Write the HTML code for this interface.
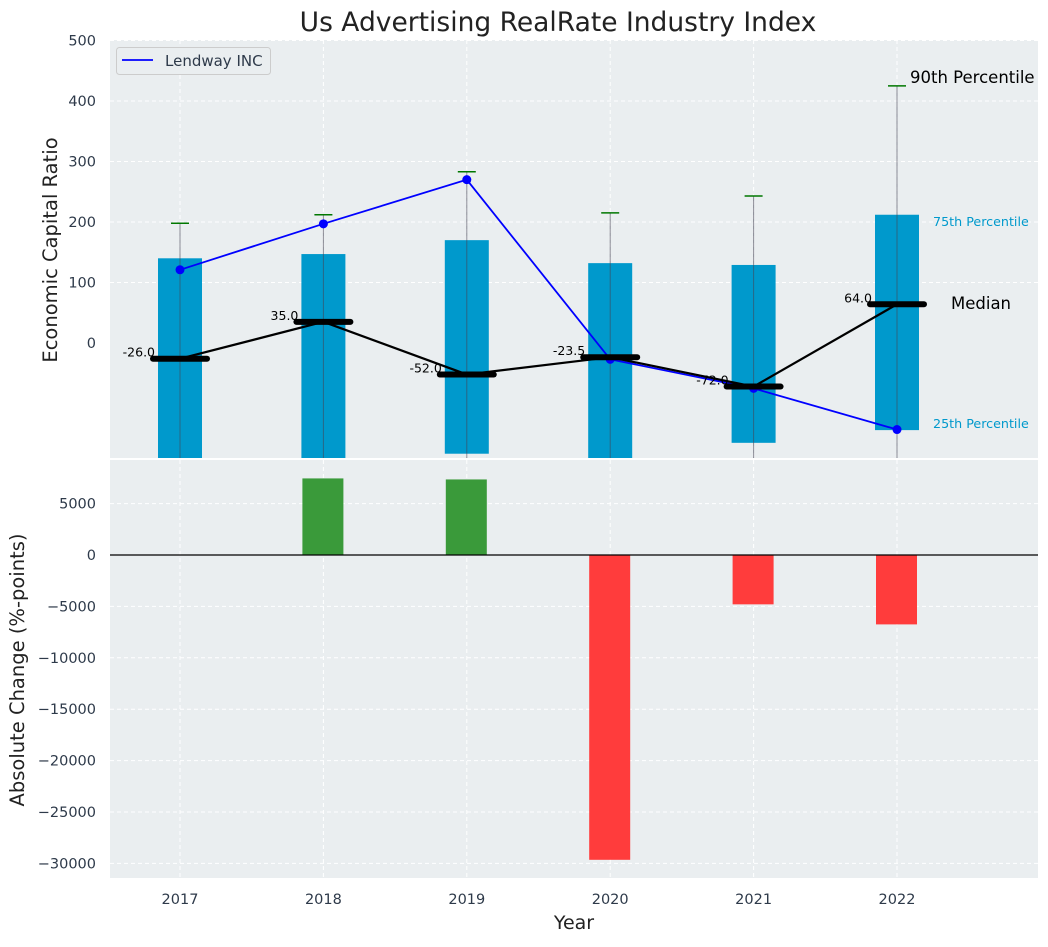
<!DOCTYPE html>
<html><head><meta charset="utf-8"><style>
body{margin:0;background:#fff;font-family:"Liberation Sans","DejaVu Sans",sans-serif}
svg text{font-family:"DejaVu Sans","Liberation Sans",sans-serif}
</style></head><body>
<svg id="c" width="1048" height="942" xmlns="http://www.w3.org/2000/svg"></svg>
<script>
const years=['2017','2018','2019','2020','2021','2022'];
const p25=[-250,-250,-183,-250,-165,-144];
const p75=[140,147,170,132,129,212];
const p90=[198,212,283,215,243,425];
const medians=[-26,35,-52,-23.5,-72,64];
const lendway=[121,197,270,-27,-75,-143];
const changes=[0,7450,7350,-29650,-4800,-6750];
const topTicks=[0,100,200,300,400,500];
const botTicks=[5000,0,-5000,-10000,-15000,-20000,-25000,-30000];

const svg=document.getElementById('c');const NS='http://www.w3.org/2000/svg';
function el(t,a,p){const e=document.createElementNS(NS,t);for(const k in a)e.setAttribute(k,a[k]);(p||svg).appendChild(e);return e;}
const X=i=>180+i*143.4;
const L=110,R=1038;
const yT=v=>343-v*0.605;
const yB=v=>555-v*0.01028;
let bg=el('rect',{x:L,y:40,width:R-L,height:418,fill:'#eaeef0'});

let bg2=el('rect',{x:L,y:460,width:R-L,height:418,fill:'#eaeef0'});

const defs=el('defs',{});
const cp=el('clipPath',{id:'ct'},defs);el('rect',{x:L,y:40,width:R-L,height:418},cp);
years.forEach((y,i)=>{
 el('line',{x1:X(i),x2:X(i),y1:40,y2:458,stroke:'#fff','stroke-dasharray':'4,3'});
 el('line',{x1:X(i),x2:X(i),y1:460,y2:878,stroke:'#fff','stroke-dasharray':'4,3'});
 let t=el('text',{x:X(i),y:904,'text-anchor':'middle','font-size':14.5,fill:'#2e3a4a'});t.textContent=y;
 
});
topTicks.forEach(v=>{
 if(v>0)el('line',{x1:L,x2:R,y1:yT(v),y2:yT(v),stroke:'#fff','stroke-dasharray':'4,3'});
 let t=el('text',{x:96,y:yT(v)+5,'text-anchor':'end','font-size':14.5,fill:'#2e3a4a'});t.textContent=v;
 
});
botTicks.forEach(v=>{
 el('line',{x1:L,x2:R,y1:yB(v),y2:yB(v),stroke:'#fff','stroke-dasharray':'4,3'});
 let t=el('text',{x:96,y:yB(v)+5,'text-anchor':'end','font-size':14.5,fill:'#2e3a4a'});t.textContent=v.toString().replace('-','−');
 
});
const g=el('g',{'clip-path':'url(#ct)'});
years.forEach((y,i)=>{
 let b=el('rect',{x:X(i)-22,y:yT(p75[i]),width:44,height:yT(p25[i])-yT(p75[i]),fill:'#0099cc'},g);
 
 el('line',{x1:X(i),x2:X(i),y1:yT(-300),y2:yT(p90[i]),stroke:'#445','stroke-opacity':0.6,'stroke-width':1},g);
 let w=el('line',{x1:X(i)-9,x2:X(i)+9,y1:yT(p90[i]),y2:yT(p90[i]),stroke:'#007700','stroke-width':1.5},g);
 
});
let lp=el('polyline',{points:lendway.map((v,i)=>X(i)+','+yT(v)).join(' '),fill:'none',stroke:'#0000ff','stroke-width':1.8},g);

lendway.forEach((v,i)=>{let c=el('circle',{cx:X(i),cy:yT(v),r:4.5,fill:'#0000ff'},g);
 });
let mp=el('polyline',{points:medians.map((v,i)=>X(i)+','+yT(v)).join(' '),fill:'none',stroke:'#000','stroke-width':2.2},g);

medians.forEach((v,i)=>{
 let m=el('line',{x1:X(i)-27,x2:X(i)+27,y1:yT(v),y2:yT(v),stroke:'#000','stroke-width':6,'stroke-linecap':'round'},g);
 
 let t=el('text',{x:X(i)-25,y:yT(v)-2,'text-anchor':'end','font-size':12.5,fill:'#000'});t.textContent=v.toFixed(1);
 
});
[['90th Percentile',910,83,16.5,'#000'],['75th Percentile',933,226,12.7,'#0099cc'],['25th Percentile',933,428,12.7,'#0099cc'],['Median',951,309,16.5,'#000']].forEach(a=>{
 let t=el('text',{x:a[1],y:a[2],'font-size':a[3],fill:a[4]});t.textContent=a[0];
 
});
changes.forEach((v,i)=>{ if(v===0)return;
 let b=el('rect',{x:X(i)-21,y:Math.min(yB(v),yB(0)),width:41,height:Math.abs(yB(v)-yB(0)),fill:v>0?'#3a9a3a':'#ff3c3c'});
 
});
el('line',{x1:L,x2:R,y1:yB(0),y2:yB(0),stroke:'#000','stroke-width':1.2});
let lg=el('g',{});
el('rect',{x:116.5,y:47.5,width:154,height:27,rx:3,fill:'#eaeef0',stroke:'#ccc'},lg);
el('line',{x1:122,x2:153,y1:60,y2:60,stroke:'#0000ff','stroke-width':1.8},lg);
let lt=el('text',{x:165,y:66,'font-size':15,fill:'#2e3a4a'},lg);lt.textContent='Lendway INC';
let tt=el('text',{x:558,y:31,'text-anchor':'middle','font-size':26.5,fill:'#222'});tt.textContent='Us Advertising RealRate Industry Index';

let yt=el('text',{x:0,y:0,'text-anchor':'middle','font-size':19.5,fill:'#222',transform:'translate(57,250) rotate(-90)'});yt.textContent='Economic Capital Ratio';

let yb=el('text',{x:0,y:0,'text-anchor':'middle','font-size':19.5,fill:'#222',transform:'translate(24,670) rotate(-90)'});yb.textContent='Absolute Change (%-points)';

let xt=el('text',{x:574,y:929,'text-anchor':'middle','font-size':19,fill:'#222'});xt.textContent='Year';

</script>
</body></html>
